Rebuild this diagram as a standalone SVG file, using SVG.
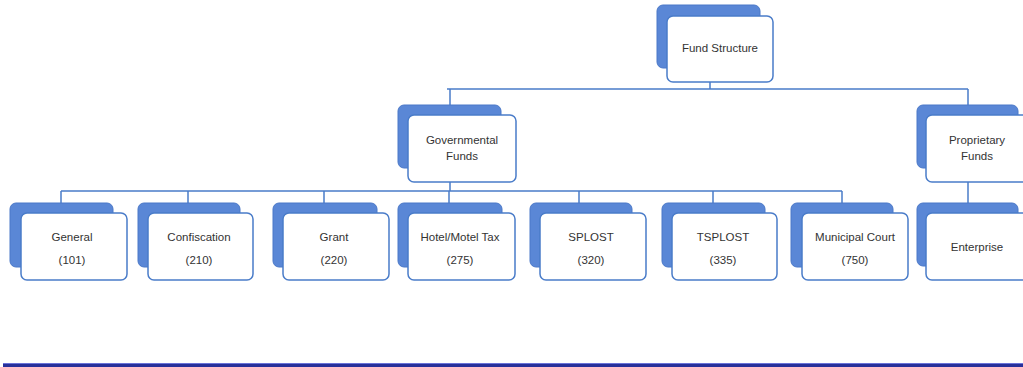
<svg xmlns="http://www.w3.org/2000/svg" width="1023" height="367" viewBox="0 0 1023 367">
<style>
.back{fill:#5a87d6;stroke:#4a78c8;stroke-width:1}
.front{fill:#ffffff;stroke:#4a7cc9;stroke-width:1.5}
.t{font-family:"Liberation Sans",Arial,sans-serif;font-size:11.5px;fill:#333;text-anchor:middle}
.c{fill:none;stroke:#4a7cc9;stroke-width:1.5}
</style>
<rect width="1023" height="367" fill="#ffffff"/>
<g id="connectors">
<path class="c" d="M710 82V89M447 89H968M450 89V115M968 89V115"/>
<path class="c" d="M450 182V191M61 191H842M61 191V213M188 191V213M324 191V213M449 191V213M579 191V213M713 191V213M842 191V213"/>
<path class="c" d="M968 182V213"/>
</g>
<g id="fund-structure">
<rect class="back" x="657" y="5" width="103" height="63" rx="6"/>
<rect class="front" x="667" y="16" width="106" height="66" rx="6"/>
<text class="t" x="720" y="52">Fund Structure</text>
</g>
<g id="governmental">
<rect class="back" x="398" y="105" width="103" height="63" rx="6"/>
<rect class="front" x="408" y="115" width="108" height="67" rx="6"/>
<text class="t" x="462" y="144">Governmental</text>
<text class="t" x="462" y="160">Funds</text>
</g>
<g id="proprietary">
<rect class="back" x="917" y="105" width="101" height="63" rx="6"/>
<rect class="front" x="926" y="115" width="106" height="67" rx="6"/>
<text class="t" x="977" y="144">Proprietary</text>
<text class="t" x="977" y="160">Funds</text>
</g>
<g id="enterprise">
<rect class="back" x="917" y="203" width="101" height="63" rx="6"/>
<rect class="front" x="926" y="213" width="106" height="67" rx="6"/>
<text class="t" x="977" y="251">Enterprise</text>
</g>
<g id="general">
<rect class="back" x="10" y="203" width="103" height="64" rx="6"/>
<rect class="front" x="21" y="213" width="106" height="67" rx="6"/>
<text class="t" x="72" y="241">General</text>
<text class="t" x="72" y="264">(101)</text>
</g>
<g id="confiscation">
<rect class="back" x="138" y="203" width="102" height="64" rx="6"/>
<rect class="front" x="148" y="213" width="105" height="67" rx="6"/>
<text class="t" x="199" y="241">Confiscation</text>
<text class="t" x="199" y="264">(210)</text>
</g>
<g id="grant">
<rect class="back" x="273" y="203" width="104" height="64" rx="6"/>
<rect class="front" x="283" y="213" width="106" height="67" rx="6"/>
<text class="t" x="334" y="241">Grant</text>
<text class="t" x="334" y="264">(220)</text>
</g>
<g id="hotel-motel">
<rect class="back" x="398" y="203" width="104" height="64" rx="6"/>
<rect class="front" x="408" y="213" width="107" height="67" rx="6"/>
<text class="t" x="460" y="241">Hotel/Motel Tax</text>
<text class="t" x="460" y="264">(275)</text>
</g>
<g id="splost">
<rect class="back" x="530" y="203" width="102" height="64" rx="6"/>
<rect class="front" x="540" y="213" width="106" height="67" rx="6"/>
<text class="t" x="591" y="241">SPLOST</text>
<text class="t" x="591" y="264">(320)</text>
</g>
<g id="tsplost">
<rect class="back" x="662" y="203" width="103" height="64" rx="6"/>
<rect class="front" x="672" y="213" width="105" height="67" rx="6"/>
<text class="t" x="723" y="241">TSPLOST</text>
<text class="t" x="723" y="264">(335)</text>
</g>
<g id="municipal-court">
<rect class="back" x="791" y="203" width="102" height="64" rx="6"/>
<rect class="front" x="802" y="213" width="106" height="67" rx="6"/>
<text class="t" x="855" y="241">Municipal Court</text>
<text class="t" x="855" y="264">(750)</text>
</g>
<rect x="3" y="363" width="1020" height="1.2" fill="#6a73d8"/>
<rect x="3" y="364" width="1020" height="3" fill="#28309a"/>
</svg>
